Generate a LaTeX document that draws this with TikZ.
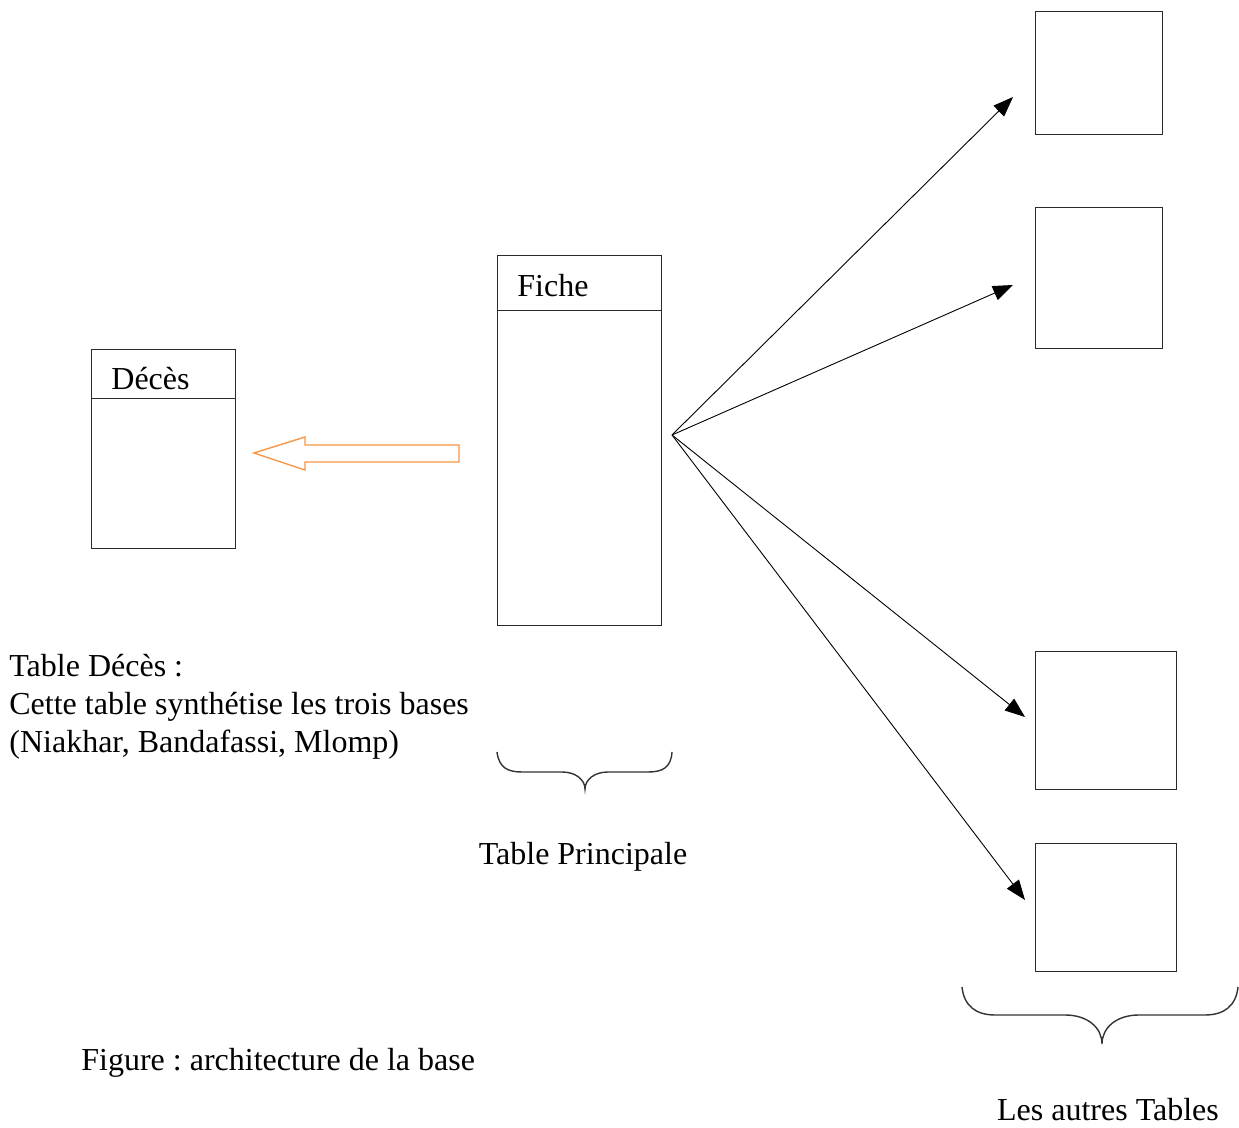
\documentclass[tikz,border=0pt]{standalone}
\usepackage{fontspec}
\setmainfont{Liberation Serif}
\usepackage{xcolor}
\usepackage{tikz}
\usetikzlibrary{calc,arrows.meta}
\definecolor{bg}{HTML}{FFFFFF}
\definecolor{ink}{HTML}{000000}
\definecolor{frame}{HTML}{2A2A2A}
\definecolor{orng}{HTML}{F79646}
\frenchspacing
\tikzset{
  box/.style={draw=frame, line width=0.65pt, anchor=north west, inner sep=0pt},
  link/.style={draw=ink, line width=0.45pt, -{Triangle[length=10pt,width=7.5pt]}},
  bigarrow/.style={draw=orng, line width=0.7pt, line join=miter},
  brc/.style={draw=ink!80, line width=0.7pt},
  lab/.style={text=ink, font=\fontsize{16}{19}\selectfont, inner sep=0pt}
}
\begin{document}
\begin{tikzpicture}[x=0.5pt,y=-0.5pt]
  \useasboundingbox[fill=bg] (0,0) rectangle (1239,1128);
  % table Deces
  \node[box, minimum width=72pt, minimum height=75pt] (deces) at (91,398) {};
  \node[box, minimum width=72pt, minimum height=24.5pt] (decesh) at (91,349) {};
  \node[lab, anchor=base west] (decest) at (111,390) {Décès};
  % table principale
  \node[box, minimum width=82pt, minimum height=157.5pt] (fiche) at (497,310) {};
  \node[box, minimum width=82pt, minimum height=27.5pt] (ficheh) at (497,255) {};
  \node[lab, anchor=base west] (fichet) at (517,297) {Fiche};
  % autres tables
  \node[box, minimum width=63.5pt, minimum height=61.5pt] (t1) at (1035,11) {};
  \node[box, minimum width=63.5pt, minimum height=70.5pt] (t2) at (1035,207) {};
  \node[box, minimum width=70.5pt, minimum height=69pt] (t3) at (1035,651) {};
  \node[box, minimum width=70.5pt, minimum height=64pt] (t4) at (1035,843) {};
  \coordinate (fan) at (672,435);
  \coordinate (e1) at (1013,97);
  \coordinate (e2) at (1013,285);
  \coordinate (e3) at (1025,717);
  \coordinate (e4) at (1025,900);
  \foreach \e in {e1,e2,e3,e4}{
    \draw[link] (fan) -- (\e);
  }
  % fleche orange
  \draw[bigarrow] (459,445) -- (305,445) -- (305,437) -- (254,453) -- (305,470)
    -- (305,462) -- (459,462) -- cycle;
  % accolades
  \draw[brc] (497,752) .. controls (499,768) and (508,772) .. (522,772) -- (562,772)
    .. controls (576,772) and (585,780) .. (585,789)
    .. controls (585,780) and (594,772) .. (608,772) -- (648,772)
    .. controls (662,772) and (671,768) .. (672,752);
  \draw[brc] (962,987) .. controls (964,1006) and (976,1015) .. (995,1015) -- (1065,1015)
    .. controls (1088,1015) and (1102,1028) .. (1102,1044)
    .. controls (1102,1028) and (1116,1015) .. (1139,1015) -- (1205,1015)
    .. controls (1224,1015) and (1236,1006) .. (1238,987);
  % textes
  \node[lab, anchor=north west, align=left] (note) at (9,654)
    {Table Décès :\\Cette table synthétise les trois bases\\(Niakhar, Bandafassi, Mlomp)};
  \node[lab] (princ) at (583,857) {Table Principale};
  \node[lab, anchor=west] (fig) at (81,1063) {Figure : architecture de la base};
  \node[lab] (autres) at (1108,1110) {Les autres Tables};
\end{tikzpicture}
\end{document}
